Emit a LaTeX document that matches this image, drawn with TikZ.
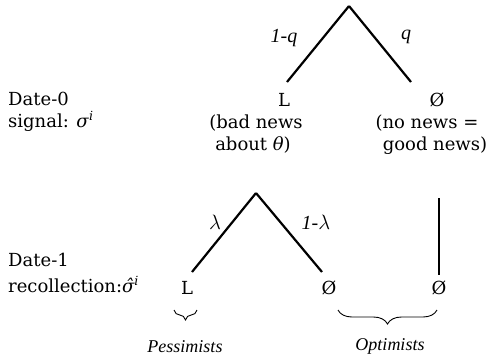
\documentclass[tikz,border=0pt]{standalone}
\usepackage{fontspec}
\setmainfont{DejaVu Serif}
\newfontfamily\labfont{Liberation Serif}
\usetikzlibrary{decorations.pathreplacing}
\begin{document}
\begin{tikzpicture}[x=1pt,y=-1pt,
  txt/.style={font=\fontsize{18}{21}\selectfont, inner sep=0pt, anchor=base},
  lft/.style={font=\fontsize{18}{21}\selectfont, inner sep=0pt, anchor=base west},
  prob/.style={font=\labfont\itshape\fontsize{20}{22}\selectfont, inner sep=0pt},
  grp/.style={font=\labfont\itshape\fontsize{18}{20}\selectfont, inner sep=0pt},
  branch/.style={line width=2.2pt},
  brc/.style={decorate, line width=0.9pt}]
\useasboundingbox (0,0) rectangle (490,362);
% branch end points
\coordinate (top) at (349,6);
\coordinate (a1) at (287,82);
\coordinate (a2) at (411,82);
\coordinate (mid) at (256,193);
\coordinate (b1) at (192,272);
\coordinate (b2) at (322,272);
\coordinate (c1) at (439,198);
\coordinate (c2) at (439,275);
% nodes
\node[txt] (L0) at (284,106) {L};
\node[txt] (N0) at (437,106) {Ø};
\node[txt] (bad1) at (256,128) {(bad news};
\node[txt] (bad2) at (253,150) {about \textit{θ})};
\node[txt] (no1) at (427,128) {(no news =};
\node[txt] (no2) at (435,150) {good news)};
\node[txt] (L1) at (187,294) {L};
\node[txt] (N1) at (329,294) {Ø};
\node[txt] (N2) at (439,294) {Ø};
\node[lft] (d0a) at (8,105) {Date-0};
\node[lft] (d0b) at (8,127) {signal: \textit{σ}\textsuperscript{\textit{i}}};
\node[lft] (d1a) at (8,266) {Date-1};
\node[lft] (d1b) at (8,292) {recollection:\textit{σ̂}\textsuperscript{\textit{i}}};
\node[prob] (p1) at (284,38) {1-q};
\node[prob] (p2) at (406,37) {q};
\node[prob] (p3) at (215,222) {$\lambda$};
\node[prob] (p4) at (316,222) {1-$\lambda$};
\node[grp] (pes) at (185,347) {Pessimists};
\node[grp] (opt) at (390,346) {Optimists};
% branches
\draw[branch] (top) -- (a1);
\draw[branch] (top) -- (a2);
\draw[branch] (mid) -- (b1);
\draw[branch] (mid) -- (b2);
\draw[branch] (c1) -- (c2);
% braces
\coordinate (pb1) at (174,310);
\coordinate (pb2) at (197,310);
\coordinate (ob1) at (338,310);
\coordinate (ob2) at (437,310);
\draw[brc, decoration={brace, mirror, amplitude=10pt}] (pb1) -- (pb2);
\draw[brc, decoration={brace, mirror, amplitude=14pt}] (ob1) -- (ob2);
\end{tikzpicture}
\end{document}
